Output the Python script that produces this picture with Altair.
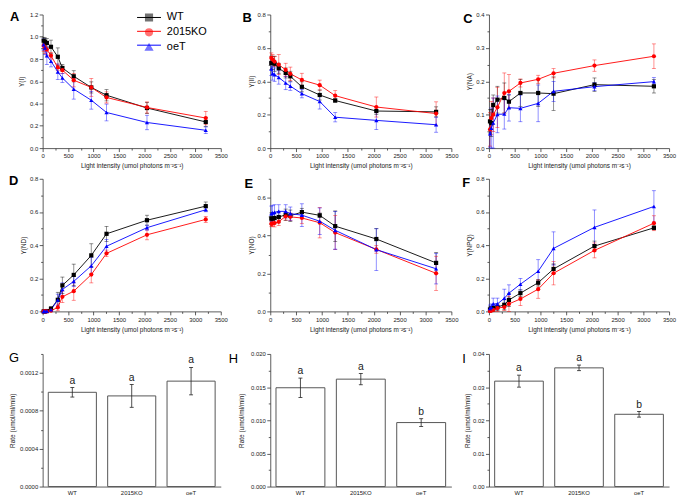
import altair as alt
import pandas as pd

FONT = "Liberation Sans"
TXT = "#1a1a1a"
AX = "#333333"

strains = ["WT", "2015KO", "oeT"]
strain_colors = ["#000000", "#ff0000", "#0000ff"]
strain_shapes = ["square", "circle", "triangle-up"]

light = [20, 45, 83, 164, 298, 388, 611, 956, 1255, 2050, 3205]
x_title = "Light intensity (umol photons m\u207b\u00b2s\u207b\u00b9)"

# A  Y(I)
YI_WT = [0.965, 0.955, 0.945, 0.91, 0.82, 0.72, 0.645, 0.545, 0.475, 0.36, 0.235]
YI_WT_err = [0.03, 0.035, 0.04, 0.06, 0.08, 0.03, 0.05, 0.05, 0.05, 0.05, 0.04]
YI_KO = [0.92, 0.90, 0.885, 0.83, 0.725, 0.70, 0.61, 0.545, 0.455, 0.365, 0.27]
YI_KO_err = [0.05, 0.05, 0.05, 0.03, 0.03, 0.03, 0.06, 0.08, 0.05, 0.05, 0.06]
YI_OE = [0.93, 0.90, 0.83, 0.78, 0.685, 0.63, 0.53, 0.43, 0.32, 0.23, 0.16]
YI_OE_err = [0.05, 0.06, 0.08, 0.05, 0.07, 0.04, 0.09, 0.08, 0.075, 0.065, 0.03]

# B  Y(II)
YII_WT = [0.51, 0.51, 0.505, 0.478, 0.45, 0.43, 0.367, 0.318, 0.285, 0.222, 0.217]
YII_WT_err = [0.04, 0.04, 0.045, 0.03, 0.03, 0.03, 0.03, 0.03, 0.01, 0.02, 0.03]
YII_KO = [0.54, 0.53, 0.518, 0.50, 0.468, 0.445, 0.408, 0.377, 0.314, 0.246, 0.207]
YII_KO_err = [0.03, 0.03, 0.03, 0.06, 0.04, 0.04, 0.04, 0.03, 0.03, 0.06, 0.07]
YII_OE = [0.474, 0.447, 0.44, 0.423, 0.39, 0.371, 0.326, 0.279, 0.185, 0.166, 0.14]
YII_OE_err = [0.04, 0.04, 0.04, 0.04, 0.04, 0.025, 0.025, 0.045, 0.028, 0.055, 0.045]

# C  Y(NA)
YNA_WT = [0.08, 0.075, 0.129, 0.145, 0.15, 0.139, 0.165, 0.165, 0.163, 0.19, 0.185]
YNA_WT_err = [0.035, 0.04, 0.03, 0.04, 0.045, 0.02, 0.04, 0.04, 0.05, 0.02, 0.02]
YNA_KO = [0.056, 0.09, 0.10, 0.122, 0.165, 0.17, 0.195, 0.206, 0.224, 0.247, 0.275]
YNA_KO_err = [0.05, 0.05, 0.05, 0.06, 0.06, 0.05, 0.012, 0.012, 0.014, 0.017, 0.037]
YNA_OE = [0.043, 0.06, 0.075, 0.101, 0.102, 0.121, 0.119, 0.134, 0.17, 0.184, 0.199]
YNA_OE_err = [0.04, 0.06, 0.075, 0.055, 0.045, 0.04, 0.04, 0.055, 0.03, 0.012, 0.012]

# D  Y(ND)
YND_WT = [0.0, 0.0, 0.002, 0.016, 0.07, 0.157, 0.22, 0.338, 0.468, 0.55, 0.635]
YND_WT_err = [0.002, 0.002, 0.005, 0.012, 0.045, 0.05, 0.065, 0.07, 0.045, 0.03, 0.025]
YND_KO = [0.0, 0.0, 0.0, 0.004, 0.024, 0.088, 0.122, 0.222, 0.35, 0.462, 0.555]
YND_KO_err = [0.002, 0.002, 0.003, 0.005, 0.02, 0.035, 0.055, 0.05, 0.02, 0.03, 0.018]
YND_OE = [0.0, 0.0, 0.002, 0.01, 0.069, 0.132, 0.181, 0.275, 0.393, 0.505, 0.613]
YND_OE_err = [0.002, 0.002, 0.004, 0.01, 0.035, 0.04, 0.03, 0.05, 0.04, 0.015, 0.012]

# E  Y(NO)
YNO_WT = [0.49, 0.49, 0.493, 0.498, 0.51, 0.505, 0.524, 0.507, 0.45, 0.382, 0.256]
YNO_WT_err = [0.03, 0.03, 0.03, 0.03, 0.03, 0.03, 0.02, 0.012, 0.08, 0.055, 0.055]
YNO_KO = [0.462, 0.463, 0.466, 0.473, 0.502, 0.499, 0.493, 0.468, 0.416, 0.327, 0.201]
YNO_KO_err = [0.015, 0.015, 0.02, 0.02, 0.02, 0.02, 0.03, 0.08, 0.09, 0.02, 0.09]
YNO_OE = [0.516, 0.52, 0.523, 0.528, 0.528, 0.516, 0.508, 0.476, 0.428, 0.326, 0.225]
YNO_OE_err = [0.04, 0.04, 0.04, 0.035, 0.035, 0.035, 0.06, 0.07, 0.1, 0.11, 0.08]

# F  Y(NPQ)
YNPQ_WT = [0.012, 0.015, 0.02, 0.026, 0.04, 0.069, 0.11, 0.173, 0.256, 0.394, 0.504]
YNPQ_WT_err = [0.015, 0.015, 0.02, 0.02, 0.03, 0.04, 0.02, 0.02, 0.03, 0.03, 0.012]
YNPQ_KO = [0.003, 0.006, 0.01, 0.02, 0.026, 0.045, 0.075, 0.134, 0.23, 0.368, 0.532]
YNPQ_KO_err = [0.01, 0.01, 0.01, 0.02, 0.02, 0.045, 0.04, 0.055, 0.07, 0.045, 0.045]
YNPQ_OE = [0.018, 0.025, 0.045, 0.045, 0.079, 0.11, 0.164, 0.242, 0.38, 0.507, 0.633]
YNPQ_OE_err = [0.02, 0.02, 0.035, 0.035, 0.055, 0.05, 0.035, 0.07, 0.1, 0.105, 0.095]

# G, H, I  rates
G_rate = [0.000995, 0.000957, 0.001113]
G_err = [0.00005, 0.00012, 0.000145]
G_sig = ["a", "a", "a"]
H_rate = [0.01490, 0.01620, 0.00965]
H_err = [0.00146, 0.00085, 0.00058]
H_sig = ["a", "a", "b"]
I_rate = [0.0318, 0.0358, 0.0218]
I_err = [0.0018, 0.00085, 0.00085]
I_sig = ["a", "a", "b"]

panel_letters = ["A", "B", "C", "D", "E", "F", "G", "H", "I"]
rate_title = "Rate (umol/ml/min)"


def major_test(step):
    return f"abs(datum.value / {step} - round(datum.value / {step})) < 0.001"


def common_axis_kw():
    return dict(labelOverlap=False, labelFlush=False, labelFont=FONT, labelFontSize=6,
                labelColor=TXT, titleFont=FONT, titleFontSize=6.5, titleFontWeight="normal",
                titleColor=TXT, domainColor=AX, domainWidth=0.8, tickColor=AX,
                tickWidth=0.8, grid=False)


def y_axis(title, top, major, minor, fmt, pad):
    n = int(round(top / minor))
    vals = [round(i * minor, 8) for i in range(n + 1)]
    test = major_test(major)
    return alt.Axis(title=title, values=vals, format=fmt,
                    labelExpr=f"({test}) ? datum.label : ''",
                    tickSize={"condition": {"test": test, "value": 3.5}, "value": 2},
                    labelPadding=1.5, titlePadding=pad, **common_axis_kw())


def x_axis_light():
    vals = list(range(0, 3501, 250))
    test = "datum.value % 500 === 0"
    return alt.Axis(title=x_title, values=vals, format="d",
                    labelExpr=f"({test}) ? datum.label : ''",
                    tickSize={"condition": {"test": test, "value": 3.5}, "value": 2},
                    labelPadding=1.5, titlePadding=4, **common_axis_kw())


def letter_layer(letter, dx, dy, bold):
    return alt.Chart(pd.DataFrame({"t": [letter]})).mark_text(
        align="left", baseline="top", font=FONT, fontSize=13,
        fontWeight="bold" if bold else "normal", color="black"
    ).encode(x=alt.value(dx), y=alt.value(dy), text="t:N")


LEG_X = 102
LEG_Y = -2.5
line_keys = [s + " line" for s in strains]


def line_panel(letter, means, errs, ytitle, top, major, minor, ypad, ldx, ldy, legend):
    recs = []
    for s, k, m, e in zip(strains, line_keys, means, errs):
        for xv, mv, ev in zip(light, m, e):
            recs.append({"light": xv, "val": mv, "lo": mv - ev, "hi": mv + ev,
                         "Strain": s, "StrainLine": k})
    df = pd.DataFrame(recs)
    xsc = alt.Scale(domain=[0, 3500], nice=False, zero=False)
    ysc = alt.Scale(domain=[0, top], nice=False, zero=False)
    xax = x_axis_light()
    yax = y_axis(ytitle, top, major, minor, ".1f", ypad)
    X = alt.X("light:Q", scale=xsc, axis=xax)
    cscale = alt.Scale(domain=strains, range=strain_colors)
    lscale = alt.Scale(domain=line_keys, range=strain_colors)
    sscale = alt.Scale(domain=strains, range=strain_shapes)
    if legend:
        pt_leg = alt.Legend(title=None, orient="none", legendX=LEG_X, legendY=LEG_Y, padding=0,
                            symbolSize=45, labelFontSize=11, labelFont=FONT, labelColor="#000000",
                            labelOffset=12.5, rowPadding=2, symbolOpacity=1)
        ln_leg = alt.Legend(title=None, orient="none", legendX=LEG_X, legendY=LEG_Y, padding=0,
                            symbolSize=45, symbolType="M-3.6,0H3.6", symbolStrokeWidth=1,
                            labelFontSize=11, labelFont=FONT, labelExpr="' '",
                            labelOffset=12.5, rowPadding=2, symbolOpacity=1)
        col_err = alt.Color("Strain:N", scale=cscale)
        col_pts = alt.Color("Strain:N", scale=cscale, legend=pt_leg)
        shp_pts = alt.Shape("Strain:N", scale=sscale, legend=pt_leg)
        stk_ln = alt.Stroke("StrainLine:N", scale=lscale, legend=ln_leg)
    else:
        col_err = alt.Color("Strain:N", scale=cscale, legend=None)
        col_pts = col_err
        shp_pts = alt.Shape("Strain:N", scale=sscale, legend=None)
        stk_ln = alt.Stroke("StrainLine:N", scale=lscale, legend=None)
    base = alt.Chart(df)
    err = base.mark_rule(strokeWidth=0.8, opacity=0.55).encode(
        x=X, y=alt.Y("lo:Q", scale=ysc, axis=yax), y2="hi:Q", color=col_err)
    cap_lo = base.mark_tick(orient="horizontal", size=4, thickness=0.8, opacity=0.55).encode(
        x=X, y=alt.Y("lo:Q", scale=ysc, axis=yax), color=col_err)
    cap_hi = base.mark_tick(orient="horizontal", size=4, thickness=0.8, opacity=0.55).encode(
        x=X, y=alt.Y("hi:Q", scale=ysc, axis=yax), color=col_err)
    lines = base.mark_line(strokeWidth=0.9).encode(
        x=X, y=alt.Y("val:Q", scale=ysc, axis=yax), stroke=stk_ln)
    pts = base.mark_point(filled=True, size=18, opacity=1).encode(
        x=X, y=alt.Y("val:Q", scale=ysc, axis=yax), color=col_pts, shape=shp_pts)
    return alt.layer(err, cap_lo, cap_hi, lines, pts, letter_layer(letter, ldx, ldy, True))


def bar_panel(letter, vals, errs, sigs, top, major, minor, fmt, ypad, ldx, ldy):
    df = pd.DataFrame({"Strain": strains, "v": vals,
                       "lo": [v - e for v, e in zip(vals, errs)],
                       "hi": [v + e for v, e in zip(vals, errs)],
                       "sig": sigs})
    xsc = alt.Scale(domain=strains, paddingInner=0.19, paddingOuter=0.095)
    xax = alt.Axis(title=None, labelAngle=0, ticks=False, labelPadding=3, **common_axis_kw())
    ysc = alt.Scale(domain=[0, top], nice=False, zero=False)
    yax = y_axis(rate_title, top, major, minor, fmt, ypad)
    X = alt.X("Strain:N", scale=xsc, axis=xax)
    base = alt.Chart(df)
    bars = base.mark_bar(fill="white", stroke="#555555", strokeWidth=1).encode(
        x=X, y=alt.Y("v:Q", scale=ysc, axis=yax))
    err = base.mark_rule(color="#222222", strokeWidth=0.8).encode(
        x=X, y=alt.Y("lo:Q", scale=ysc, axis=yax), y2="hi:Q")
    cap_lo = base.mark_tick(orient="horizontal", size=4, thickness=0.8, color="#222222", opacity=1).encode(
        x=X, y=alt.Y("lo:Q", scale=ysc, axis=yax))
    cap_hi = base.mark_tick(orient="horizontal", size=4, thickness=0.8, color="#222222", opacity=1).encode(
        x=X, y=alt.Y("hi:Q", scale=ysc, axis=yax))
    txt = base.mark_text(baseline="bottom", dy=-2, font=FONT, fontSize=10.5, color=TXT).encode(
        x=X, y=alt.Y("hi:Q", scale=ysc, axis=yax), text="sig:N")
    return alt.layer(bars, err, cap_lo, cap_hi, txt, letter_layer(letter, ldx, ldy, False))


col_w = [180, 50, 183, 38, 182]
row_h = [135, 31, 134, 43, 134]


def sized(ch, w, h):
    return ch.properties(width=w, height=h)


def spacer(w, h):
    return alt.Chart(pd.DataFrame({"s": [0]})).mark_point(opacity=0, size=1).properties(width=w, height=h)


pA = sized(line_panel(panel_letters[0], [YI_WT, YI_KO, YI_OE], [YI_WT_err, YI_KO_err, YI_OE_err],
                      "Y(I)", 1.2, 0.2, 0.1, 5, -33, -3.5, True), col_w[0], row_h[0])
pB = sized(line_panel(panel_letters[1], [YII_WT, YII_KO, YII_OE], [YII_WT_err, YII_KO_err, YII_OE_err],
                      "Y(II)", 0.8, 0.2, 0.1, 3, -28, -2.7, False), col_w[2], row_h[0])
pC = sized(line_panel(panel_letters[2], [YNA_WT, YNA_KO, YNA_OE], [YNA_WT_err, YNA_KO_err, YNA_OE_err],
                      "Y(NA)", 0.4, 0.1, 0.05, 3, -26, -1.7, False), col_w[4], row_h[0])
pD = sized(line_panel(panel_letters[3], [YND_WT, YND_KO, YND_OE], [YND_WT_err, YND_KO_err, YND_OE_err],
                      "Y(ND)", 0.8, 0.2, 0.1, 3, -34, -3.7, False), col_w[0], row_h[2])
pE = sized(line_panel(panel_letters[4], [YNO_WT, YNO_KO, YNO_OE], [YNO_WT_err, YNO_KO_err, YNO_OE_err],
                      "Y(NO)", 0.7, 0.2, 0.1, 3, -26, -0.7, False), col_w[2], row_h[2])
pF = sized(line_panel(panel_letters[5], [YNPQ_WT, YNPQ_KO, YNPQ_OE], [YNPQ_WT_err, YNPQ_KO_err, YNPQ_OE_err],
                      "Y(NPQ)", 0.8, 0.2, 0.1, 3, -27, -1.7, False), col_w[4], row_h[2])
pG = sized(bar_panel(panel_letters[6], G_rate, G_err, G_sig, 0.0014, 0.0004, 0.0002, ".4f", 4, -34, -1.7),
           col_w[0], row_h[4])
pH = sized(bar_panel(panel_letters[7], H_rate, H_err, H_sig, 0.020, 0.005, 0.0025, ".3f", 6, -42, -0.7),
           col_w[2], row_h[4])
pI = sized(bar_panel(panel_letters[8], I_rate, I_err, I_sig, 0.04, 0.01, 0.005, ".2f", 2, -27, -0.7),
           col_w[4], row_h[4])

cells = [
    pA, spacer(col_w[1], 1), pB, spacer(col_w[3], 1), pC,
    *[spacer(1, row_h[1]) for _ in range(5)],
    pD, spacer(col_w[1], 1), pE, spacer(col_w[3], 1), pF,
    *[spacer(1, row_h[3]) for _ in range(5)],
    pG, spacer(col_w[1], 1), pH, spacer(col_w[3], 1), pI,
]

chart = alt.concat(*cells, columns=5, spacing=0, bounds="flush", align="each").resolve_scale(
    color="independent", shape="independent", stroke="independent"
).properties(padding=0).configure(font=FONT).configure_view(stroke="transparent")

chart.save("out.html", embed_options={"renderer": "svg", "actions": False})
